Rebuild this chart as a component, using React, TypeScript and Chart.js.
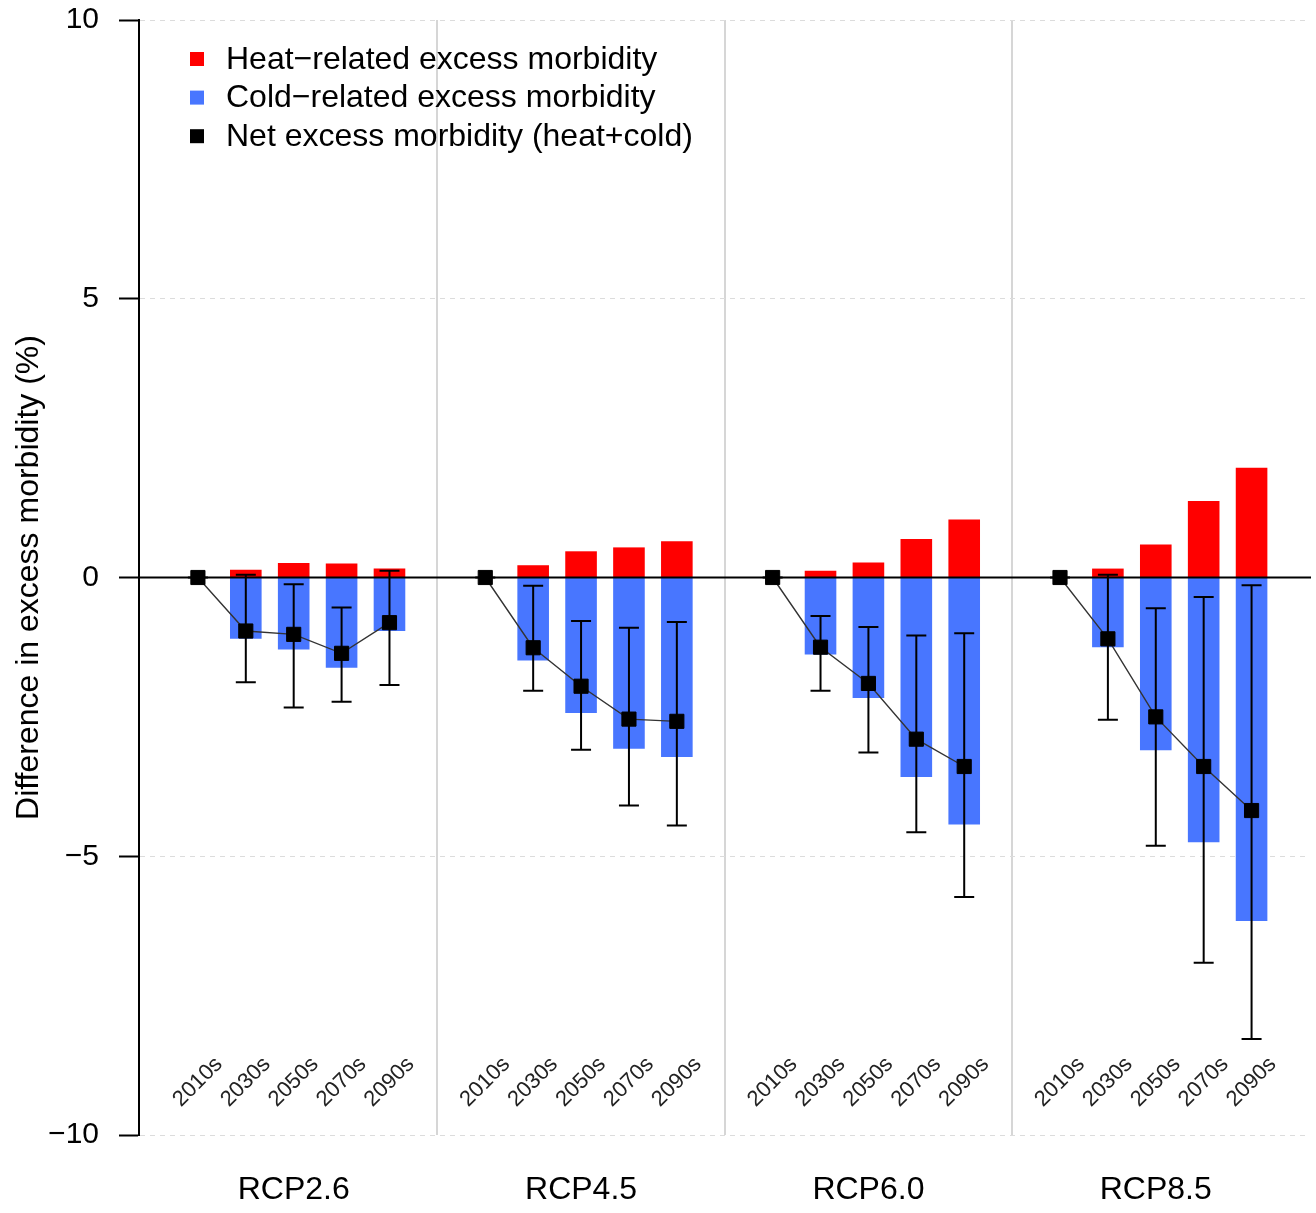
import { useEffect, useRef } from 'react';
import { Chart, registerables } from 'chart.js';

Chart.register(...registerables);

// ---------- data ----------
const scenarios = ['RCP2.6', 'RCP4.5', 'RCP6.0', 'RCP8.5'];
const decades = ['2010s', '2030s', '2050s', '2070s', '2090s'];

const heatRCP26 = [0, 0.14, 0.26, 0.25, 0.16];
const heatRCP45 = [0, 0.22, 0.47, 0.54, 0.65];
const heatRCP60 = [0, 0.12, 0.27, 0.69, 1.04];
const heatRCP85 = [0, 0.16, 0.59, 1.37, 1.97];

const coldRCP26 = [0, -1.1, -1.29, -1.62, -0.96];
const coldRCP45 = [0, -1.49, -2.43, -3.07, -3.22];
const coldRCP60 = [0, -1.38, -2.16, -3.58, -4.43];
const coldRCP85 = [0, -1.25, -3.1, -4.75, -6.16];

const netRCP26 = [0, -0.96, -1.02, -1.36, -0.81];
const netRCP45 = [0, -1.26, -1.95, -2.54, -2.58];
const netRCP60 = [0, -1.25, -1.9, -2.9, -3.39];
const netRCP85 = [0, -1.1, -2.5, -3.39, -4.18];

const netHighRCP26 = [0, 0.05, -0.12, -0.54, 0.12];
const netHighRCP45 = [0, -0.15, -0.78, -0.9, -0.8];
const netHighRCP60 = [0, -0.69, -0.89, -1.04, -1.0];
const netHighRCP85 = [0, 0.05, -0.55, -0.35, -0.14];

const netLowRCP26 = [0, -1.88, -2.33, -2.23, -1.93];
const netLowRCP45 = [0, -2.03, -3.09, -4.09, -4.45];
const netLowRCP60 = [0, -2.03, -3.14, -4.57, -5.73];
const netLowRCP85 = [0, -2.55, -4.81, -6.91, -8.28];

const yTickValues = [-10, -5, 0, 5, 10];

const seriesLabels = [
  'Heat\u2212related excess morbidity',
  'Cold\u2212related excess morbidity',
  'Net excess morbidity (heat+cold)',
];
const yTitle = 'Difference in excess morbidity (%)';

// ---------- derived ----------
const heatAll = [heatRCP26, heatRCP45, heatRCP60, heatRCP85];
const coldAll = [coldRCP26, coldRCP45, coldRCP60, coldRCP85];
const netAll = [netRCP26, netRCP45, netRCP60, netRCP85];
const highAll = [netHighRCP26, netHighRCP45, netHighRCP60, netHighRCP85];
const lowAll = [netLowRCP26, netLowRCP45, netLowRCP60, netLowRCP85];

const SLOTS = decades.length + 1;
const pos = (g: number, i: number) => g * SLOTS + i + 1;
const groupOf = (x: number) => Math.floor(x / SLOTS);

const heatData: { x: number; y: number }[] = [];
const coldData: { x: number; y: number }[] = [];
const netData: { x: number; y: number }[] = [];
const errRows: { x: number; lo: number; hi: number }[] = [];
const decadeTicks: { x: number; label: string }[] = [];
scenarios.forEach((_, g) => {
  decades.forEach((d, i) => {
    const x = pos(g, i);
    heatData.push({ x, y: heatAll[g][i] });
    coldData.push({ x, y: coldAll[g][i] });
    netData.push({ x, y: netAll[g][i] });
    errRows.push({ x, lo: lowAll[g][i], hi: highAll[g][i] });
    decadeTicks.push({ x, label: d });
  });
});
const groupCenters = scenarios.map((_, g) => g * SLOTS + (decades.length + 1) / 2);
const separators = scenarios.slice(1).map((_, g) => (g + 1) * SLOTS);
const xTickValues = [...groupCenters, ...separators].sort((a, b) => a - b);

const FONT = "'Liberation Sans', Arial, Helvetica, sans-serif";
Chart.defaults.font.family = FONT;

const HEAT = '#FF0000';
const COLD = '#4876FF';

const overlayPlugin = {
  id: 'overlay',
  beforeDatasetDraw(chart: any, args: any) {
    if (args.index !== 0) return;
    const { ctx, chartArea } = chart;
    const xs = chart.scales.x;
    const ys = chart.scales.y;
    ctx.save();
    // zero line
    const y0 = ys.getPixelForValue(0);
    ctx.strokeStyle = '#000';
    ctx.lineWidth = 2;
    ctx.beginPath();
    ctx.moveTo(chartArea.left, y0);
    ctx.lineTo(chartArea.right + 1, y0);
    ctx.stroke();
    // error bars
    ctx.lineWidth = 2;
    errRows.forEach((r) => {
      const px = xs.getPixelForValue(r.x);
      const pLo = ys.getPixelForValue(r.lo);
      const pHi = ys.getPixelForValue(r.hi);
      ctx.beginPath();
      ctx.moveTo(px, pLo);
      ctx.lineTo(px, pHi);
      ctx.moveTo(px - 10, pLo);
      ctx.lineTo(px + 10, pLo);
      ctx.moveTo(px - 10, pHi);
      ctx.lineTo(px + 10, pHi);
      ctx.stroke();
    });
    ctx.restore();
  },
  afterDraw(chart: any) {
    const { ctx } = chart;
    const xs = chart.scales.x;
    const ys = chart.scales.y;
    ctx.save();
    // decade labels
    ctx.fillStyle = '#222';
    ctx.font = `22px ${FONT}`;
    ctx.textAlign = 'center';
    ctx.textBaseline = 'middle';
    const ly = ys.getPixelForValue(-9.05);
    decadeTicks.forEach((t) => {
      ctx.save();
      ctx.translate(xs.getPixelForValue(t.x), ly);
      ctx.rotate(-Math.PI / 4);
      ctx.fillText(t.label, 0, 0);
      ctx.restore();
    });
    // legend
    const colors = [HEAT, COLD, '#000'];
    ctx.font = `32px ${FONT}`;
    ctx.textAlign = 'left';
    ctx.textBaseline = 'middle';
    seriesLabels.forEach((lab, k) => {
      const cy = 59 + k * 38.6;
      ctx.fillStyle = colors[k];
      ctx.fillRect(190, cy - 7, 14, 14);
      ctx.fillStyle = '#000';
      ctx.fillText(lab, 226, cy + 1);
    });
    ctx.restore();
  },
};

export default function App() {
  const ref = useRef<HTMLCanvasElement | null>(null);
  useEffect(() => {
    if (!ref.current) return;
    const chart = new Chart(ref.current, {
      type: 'bar',
      data: {
        datasets: [
          {
            type: 'line',
            label: seriesLabels[2],
            data: netData,
            order: 0,
            borderColor: '#333',
            borderWidth: 1.4,
            pointStyle: 'rect',
            pointRadius: 10,
            pointBackgroundColor: '#000',
            pointBorderColor: '#000',
            pointBorderWidth: 1,
            tension: 0,
            segment: {
              borderColor: (c: any) =>
                groupOf(c.p0.parsed.x) === groupOf(c.p1.parsed.x) ? '#333' : 'rgba(0,0,0,0)',
            },
          } as any,
          {
            type: 'bar',
            label: seriesLabels[0],
            data: heatData,
            order: 2,
            backgroundColor: HEAT,
            grouped: false,
            barPercentage: 0.66,
            categoryPercentage: 1,
          } as any,
          {
            type: 'bar',
            label: seriesLabels[1],
            data: coldData,
            order: 2,
            backgroundColor: COLD,
            grouped: false,
            barPercentage: 0.66,
            categoryPercentage: 1,
          } as any,
        ],
      },
      options: {
        animation: false,
        responsive: false,
        maintainAspectRatio: false,
        layout: { autoPadding: false, padding: { top: 20, right: 6, left: 0, bottom: 0 } },
        plugins: { legend: { display: false }, tooltip: { enabled: false } },
        scales: {
          x: {
            type: 'linear',
            min: -0.23,
            max: 24.22,
            offset: false,
            afterBuildTicks: (s: any) => {
              s.ticks = xTickValues.map((v) => ({ value: v }));
            },
            afterFit: (s: any) => {
              s.height = 78;
              s.paddingLeft = 0;
              s.paddingRight = 0;
            },
            ticks: {
              autoSkip: false,
              maxRotation: 0,
              minRotation: 0,
              color: '#000',
              padding: 36,
              font: { size: 32, family: FONT },
              callback: (v: any) => {
                const gi = groupCenters.indexOf(Number(v));
                return gi >= 0 ? scenarios[gi] : '';
              },
            },
            grid: {
              offset: false,
              drawTicks: false,
              lineWidth: 2,
              color: (c: any) =>
                c.tick && separators.includes(c.tick.value) ? '#d6d6d6' : 'rgba(0,0,0,0)',
            },
            border: { display: false },
          },
          y: {
            type: 'linear',
            min: -10,
            max: 10,
            afterBuildTicks: (s: any) => {
              s.ticks = yTickValues.map((v) => ({ value: v }));
            },
            afterFit: (s: any) => {
              s.width = 139;
              s.paddingTop = 0;
              s.paddingBottom = 0;
            },
            title: {
              display: true,
              text: yTitle,
              color: '#000',
              font: { size: 32, family: FONT },
              padding: { top: 10, bottom: 0 },
            },
            ticks: {
              color: '#000',
              padding: 20,
              font: { size: 30, family: FONT },
              callback: (v: any) => (Number(v) < 0 ? '\u2212' + Math.abs(Number(v)) : String(v)),
            },
            grid: {
              drawTicks: true,
              tickLength: 20,
              tickWidth: 2,
              tickColor: '#000',
              tickBorderDash: [],
              lineWidth: 1,
              color: (c: any) => (c.tick && c.tick.value === 0 ? 'rgba(0,0,0,0)' : '#dcdcdc'),
            },
            border: {
              display: true,
              color: '#000',
              width: 2,
              dash: (c: any) => (c.tick && c.tick.value !== 0 ? [5, 5] : []),
            },
          },
        },
      },
      plugins: [overlayPlugin],
    } as any);
    return () => chart.destroy();
  }, []);
  return (
    <div style={{ position: 'fixed', left: 0, top: 0, width: 1316, height: 1213, background: '#fff' }}>
      <canvas ref={ref} width={1316} height={1213} style={{ display: 'block' }} />
    </div>
  );
}
